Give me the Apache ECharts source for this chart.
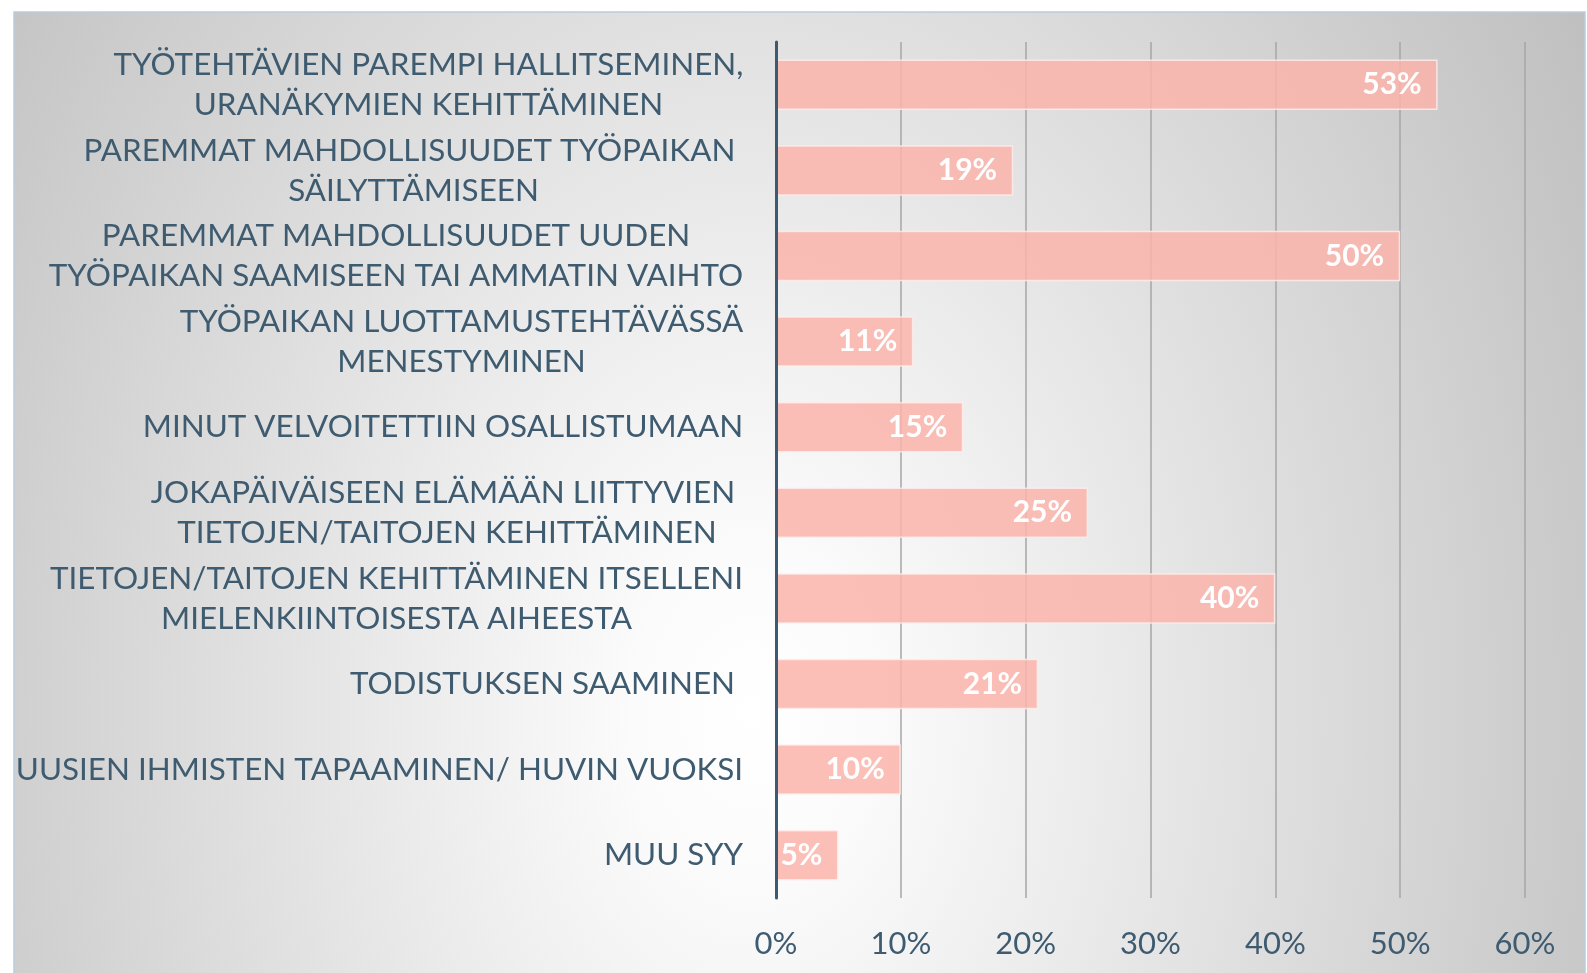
<!DOCTYPE html>
<html>
<head>
<meta charset="utf-8">
<script src="https://cdn.jsdelivr.net/npm/echarts@6/dist/echarts.min.js"></script>
<style>
  html, body { margin: 0; padding: 0; background: #ffffff; }
  #chart { width: 1587px; height: 973px; }
</style>
</head>
<body>
<div id="chart"></div>
<script>
const categories = [
  "TYÖTEHTÄVIEN PAREMPI HALLITSEMINEN,\nURANÄKYMIEN KEHITTÄMINEN",
  "PAREMMAT MAHDOLLISUUDET TYÖPAIKAN \nSÄILYTTÄMISEEN",
  "PAREMMAT MAHDOLLISUUDET UUDEN\nTYÖPAIKAN SAAMISEEN TAI AMMATIN VAIHTO",
  "TYÖPAIKAN LUOTTAMUSTEHTÄVÄSSÄ\nMENESTYMINEN",
  "MINUT VELVOITETTIIN OSALLISTUMAAN",
  "JOKAPÄIVÄISEEN ELÄMÄÄN LIITTYVIEN \nTIETOJEN/TAITOJEN KEHITTÄMINEN",
  "TIETOJEN/TAITOJEN KEHITTÄMINEN ITSELLENI\nMIELENKIINTOISESTA AIHEESTA",
  "TODISTUKSEN SAAMINEN ",
  "UUSIEN IHMISTEN TAPAAMINEN/ HUVIN VUOKSI",
  "MUU SYY"
];
const values = [53, 19, 50, 11, 15, 25, 40, 21, 10, 5];
const tickMin = 0;
const tickMax = 60;
const tickStep = 10;

const labelColor = '#3e5b70';
const labelFont = 'Lato';
const labelSize = 31.4;

const measureCtx = document.createElement('canvas').getContext('2d');
measureCtx.font = labelSize + 'px ' + labelFont;
const rich = {};
categories.forEach(function (c, i) {
  const w = Math.max.apply(null, c.split('\n').map(function (l) { return measureCtx.measureText(l).width; }));
  rich['l' + i] = {
    width: Math.ceil(w) + 1,
    align: 'center',
    fontSize: labelSize,
    fontFamily: labelFont,
    color: labelColor,
    lineHeight: 40
  };
});

const chart = echarts.init(document.getElementById('chart'), null, { renderer: 'canvas' });

const boxX = 14, boxY = 12, boxW = 1571, boxH = 975;
const sy = 1.39;

const option = {
  animation: false,
  backgroundColor: '#ffffff',
  graphic: [
    {
      type: 'rect',
      z: -10,
      silent: true,
      x: boxX,
      y: boxY,
      scaleY: sy,
      shape: { x: 0, y: 0, width: boxW, height: boxH / sy },
      style: {
        fill: {
          type: 'radial',
          x: 0.47, y: 0.72, r: 1.44,
          colorStops: [
            { offset: 0, color: '#ffffff' },
            { offset: 0.12, color: '#fbfbfb' },
            { offset: 1, color: '#bdbdbd' }
          ]
        }
      }
    },
    {
      type: 'rect',
      z: -9,
      silent: true,
      shape: { x: boxX, y: boxY, width: boxW, height: boxH },
      style: { fill: 'none', stroke: '#bccbda', lineWidth: 1.5 }
    }
  ],
  grid: {
    left: 776,
    right: 62,
    top: 42,
    bottom: 75,
    containLabel: false
  },
  xAxis: {
    type: 'value',
    min: tickMin,
    max: tickMax,
    interval: tickStep,
    axisLine: { show: false },
    axisTick: { show: false },
    splitLine: { show: true, lineStyle: { color: '#a6a6a6', width: 1.5 } },
    axisLabel: {
      formatter: '{value}%',
      color: labelColor,
      fontFamily: labelFont,
      fontSize: 31,
      margin: 30
    }
  },
  yAxis: {
    type: 'category',
    inverse: true,
    data: categories,
    axisLine: { show: true, lineStyle: { color: '#3d5a70', width: 3 } },
    axisTick: { show: false },
    splitLine: { show: false },
    axisLabel: {
      margin: 32,
      align: 'right',
      formatter: function (value, index) {
        return value.split('\n').map(function (l) { return '{l' + index + '|' + l + '}'; }).join('\n');
      },
      rich: rich
    },
    z: 5
  },
  series: [
    {
      type: 'bar',
      data: values,
      barWidth: '59%',
      itemStyle: {
        color: 'rgba(250,180,172,0.85)',
        borderColor: 'rgba(255,238,236,0.8)',
        borderWidth: 1.5
      },
      label: {
        show: true,
        position: 'insideRight',
        distance: 16,
        formatter: '{c}%',
        color: '#ffffff',
        fontFamily: labelFont,
        fontWeight: 'bold',
        fontSize: 30
      }
    }
  ]
};

chart.setOption(option);
</script>
</body>
</html>
